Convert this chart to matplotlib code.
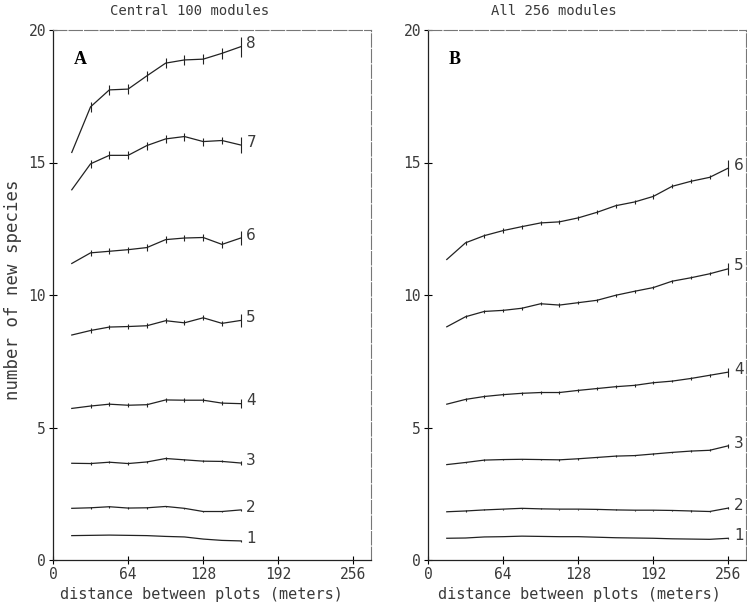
import numpy as np
import matplotlib
matplotlib.use("Agg")
import matplotlib.pyplot as plt

# distances (meters) where the curves were sampled
dist_a = [16, 32, 48, 64, 80, 96, 112, 128, 144, 160]
dist_b = [16, 32, 48, 64, 80, 96, 112, 128, 144, 160, 176, 192, 208, 224, 240, 256]

# panel A: central 100 modules, curves 1..8
curves_a = {
    1: [0.92, 0.93, 0.94, 0.93, 0.92, 0.89, 0.87, 0.79, 0.74, 0.72],
    2: [1.95, 1.97, 2.01, 1.96, 1.97, 2.02, 1.95, 1.83, 1.83, 1.89],
    3: [3.65, 3.64, 3.69, 3.64, 3.70, 3.83, 3.78, 3.73, 3.72, 3.66],
    4: [5.72, 5.81, 5.88, 5.84, 5.86, 6.04, 6.03, 6.03, 5.92, 5.90],
    5: [8.49, 8.66, 8.79, 8.81, 8.84, 9.03, 8.95, 9.14, 8.93, 9.04],
    6: [11.19, 11.59, 11.65, 11.71, 11.79, 12.09, 12.15, 12.17, 11.91, 12.15],
    7: [13.97, 14.95, 15.27, 15.27, 15.64, 15.89, 15.98, 15.79, 15.83, 15.66],
    8: [15.38, 17.10, 17.74, 17.77, 18.27, 18.75, 18.87, 18.90, 19.12, 19.37],
}
# error half-widths: interior points and last point (first point has none)
err_a = {1: 0.0, 2: 0.03, 3: 0.04, 4: 0.07, 5: 0.09, 6: 0.12, 7: 0.15, 8: 0.2}
err_a_end = {1: 0.03, 2: 0.05, 3: 0.08, 4: 0.16, 5: 0.24, 6: 0.28, 7: 0.3, 8: 0.38}

# panel B: all 256 modules, curves 1..6
curves_b = {
    1: [0.82, 0.83, 0.87, 0.88, 0.90, 0.89, 0.88, 0.88, 0.86, 0.84, 0.83, 0.82, 0.80, 0.79, 0.78, 0.82],
    2: [1.82, 1.85, 1.89, 1.92, 1.95, 1.93, 1.92, 1.92, 1.91, 1.89, 1.88, 1.88, 1.87, 1.85, 1.83, 1.96],
    3: [3.60, 3.68, 3.77, 3.79, 3.80, 3.79, 3.78, 3.82, 3.87, 3.92, 3.94, 4.00, 4.06, 4.11, 4.14, 4.31],
    4: [5.88, 6.06, 6.17, 6.24, 6.29, 6.32, 6.32, 6.40, 6.47, 6.54, 6.59, 6.69, 6.75, 6.85, 6.97, 7.09],
    5: [8.80, 9.18, 9.38, 9.42, 9.50, 9.67, 9.62, 9.71, 9.80, 9.99, 10.14, 10.28, 10.52, 10.65, 10.80, 10.99],
    6: [11.34, 11.97, 12.24, 12.43, 12.58, 12.72, 12.76, 12.91, 13.12, 13.37, 13.51, 13.72, 14.10, 14.29, 14.44, 14.79],
}
err_b = {1: 0.0, 2: 0.02, 3: 0.03, 4: 0.05, 5: 0.06, 6: 0.08}
err_b_end = {1: 0.02, 2: 0.03, 3: 0.07, 4: 0.17, 5: 0.22, 6: 0.31}

x_ticks = [0, 64, 128, 192, 256]
y_ticks = [0, 5, 10, 15, 20]

mono = "DejaVu Sans Mono"
ink = "#222222"
txt = "#3a3a3a"

fig = plt.figure(figsize=(7.47, 6.06), dpi=100)
ax_a = fig.add_axes([53 / 747, 1 - 560 / 606, 318 / 747, 530 / 606])
ax_b = fig.add_axes([428 / 747, 1 - 560 / 606, 318 / 747, 530 / 606])


def draw_panel(ax, dist, curves, err, err_end, letter):
    for k, vals in curves.items():
        vals = np.array(vals)
        yerr = np.full(len(vals), err[k])
        yerr[0] = 0
        yerr[-1] = err_end[k]
        ax.errorbar(dist, vals, yerr=yerr, color=ink, lw=0.9,
                    elinewidth=0.8, capsize=0)
        ax.annotate(str(k), (dist[-1], vals[-1]), xytext=(4, 2),
                    textcoords="offset points", fontsize=11,
                    color=txt, va="center", ha="left")
    ax.set_xlim(0, 271)
    ax.set_ylim(0, 20)
    ax.set_xticks(x_ticks)
    ax.set_yticks(y_ticks)
    ax.tick_params(direction="inout", length=6, width=0.8,
                   labelsize=10.5, labelcolor=txt, pad=2)
    for lab in ax.get_xticklabels() + ax.get_yticklabels():
        lab.set_family(mono)
    for side in ("top", "right"):
        ax.spines[side].set_color("#777777")
        ax.spines[side].set_linewidth(0.8)
        ax.spines[side].set_linestyle((0, (12, 2)))
    for side in ("left", "bottom"):
        ax.spines[side].set_linewidth(0.9)
        ax.spines[side].set_color(ink)
    ax.text(0.085, 0.945, letter, transform=ax.transAxes, fontsize=13,
            fontweight="bold", family="Liberation Serif", ha="center", va="center")


draw_panel(ax_a, dist_a, curves_a, err_a, err_a_end, "A")
draw_panel(ax_b, dist_b, curves_b, err_b, err_b_end, "B")

fig.text(190 / 747, 1 - 11 / 606, "Central 100 modules", family=mono,
         fontsize=10, color=txt, ha="center", va="center")
fig.text(554 / 747, 1 - 11 / 606, "All 256 modules", family=mono,
         fontsize=10, color=txt, ha="center", va="center")
fig.text(201 / 747, 1 - 595 / 606, "distance between plots (meters)", family=mono,
         fontsize=11, color=txt, ha="center", va="center")
fig.text(579 / 747, 1 - 595 / 606, "distance between plots (meters)", family=mono,
         fontsize=11, color=txt, ha="center", va="center")
fig.text(13 / 747, 1 - 290 / 606, "number of new species", family=mono,
         fontsize=12.5, color=txt, ha="center", va="center", rotation=90)

fig.savefig("out.png", dpi=100)
